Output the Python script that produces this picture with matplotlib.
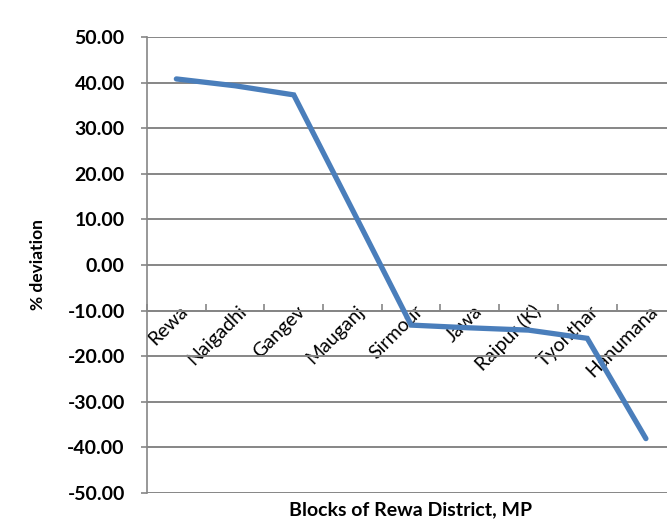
import matplotlib
matplotlib.use("Agg")
import matplotlib.pyplot as plt
from matplotlib.transforms import ScaledTranslation
import numpy as np

blocks = ["Rewa", "Naigadhi", "Gangev", "Mauganj", "Sirmour", "Jawa",
          "Raipur (K)", "Tyonthar", "Hanumana"]
deviation = [40.8, 39.3, 37.3, 12.1, -13.2, -13.8, -14.3, -16.1, -38.1]
y_ticks = [50, 40, 30, 20, 10, 0, -10, -20, -30, -40, -50]

plt.rcParams['font.family'] = ['Lato', 'DejaVu Sans']

fig = plt.figure(figsize=(6.67, 5.21), dpi=100)
ax = fig.add_axes([0.2204, 0.054, 0.792, 0.875])

x = np.arange(len(blocks))
ax.plot(x, deviation, color='#4A7EBB', lw=3.8, solid_capstyle='round',
        solid_joinstyle='miter', zorder=3)

ax.set_xlim(-0.5, len(blocks) - 0.5)
ax.set_ylim(-50, 50)
ax.set_yticks(y_ticks)
ax.set_yticklabels([f"{v:.2f}" for v in y_ticks], fontsize=14, fontweight='bold')
grid_c = '#868686'
ax.grid(axis='y', color=grid_c, lw=1.4, zorder=1)
ax.tick_params(axis='y', direction='out', length=4, width=1.2, color=grid_c, pad=12)

# category axis crossing at -10
ax.spines['bottom'].set_position(('data', -10))
ax.spines['bottom'].set_color(grid_c)
ax.spines['bottom'].set_linewidth(1.4)
ax.spines['left'].set_color(grid_c)
ax.spines['left'].set_linewidth(1.2)
ax.spines['top'].set_visible(False)
ax.spines['right'].set_visible(False)

ax.set_xticks(np.arange(len(blocks) + 1) - 0.5)
ax.set_xticklabels([])
ax.tick_params(axis='x', which='major', direction='in', length=5, width=1.2, color=grid_c)
ax.set_xticks(x, minor=True)
ax.set_xticklabels(blocks, minor=True, fontsize=14, rotation=45,
                   ha='right', va='center', rotation_mode='anchor')
ax.tick_params(axis='x', which='minor', length=0, pad=0)
shift = ScaledTranslation(9 / 100, 2 / 100, fig.dpi_scale_trans)
for lbl in ax.get_xticklabels(minor=True):
    lbl.set_transform(lbl.get_transform() + shift)

ax.set_ylabel("% deviation", fontsize=12.5, fontweight='bold', labelpad=15)
fig.text(0.615, 0.021, "Blocks of Rewa District, MP", ha='center', va='center',
         fontsize=14, fontweight='bold')

fig.savefig("out.png", dpi=100)
